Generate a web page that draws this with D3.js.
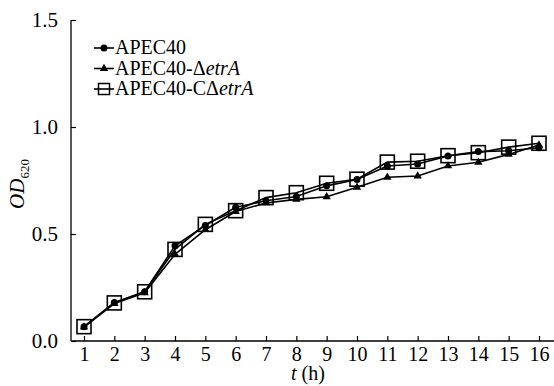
<!DOCTYPE html>
<html>
<head>
<meta charset="utf-8">
<script src="https://cdn.jsdelivr.net/npm/d3@7"></script>
<style>
  body { margin: 0; background: #fff; }
</style>
</head>
<body>
<svg id="chart" width="554" height="386"></svg>
<script>
// hours
const hours = [1, 2, 3, 4, 5, 6, 7, 8, 9, 10, 11, 12, 13, 14, 15, 16];
// OD620 per strain
const apec40 = [0.067, 0.18, 0.23, 0.445, 0.54, 0.625, 0.655, 0.675, 0.725, 0.755, 0.818, 0.827, 0.865, 0.885, 0.889, 0.903];
const deltaEtrA = [0.065, 0.175, 0.225, 0.405, 0.52, 0.605, 0.645, 0.662, 0.674, 0.718, 0.765, 0.771, 0.818, 0.835, 0.872, 0.916];
const cDeltaEtrA = [0.067, 0.178, 0.23, 0.428, 0.545, 0.609, 0.67, 0.693, 0.737, 0.756, 0.836, 0.84, 0.866, 0.88, 0.906, 0.924];
const yTicks = [0.0, 0.5, 1.0, 1.5];

const FONT = "'Liberation Serif', 'Times New Roman', Times, serif";

const svg = d3.select("#chart");
const margin = {top: 20, right: 0, bottom: 45, left: 71};
const width = 554, height = 386;

const x = d3.scaleLinear()
  .domain([1, 16])
  .range([84, 539]);
const y = d3.scaleLinear()
  .domain([0, 1.5])
  .range([341, 20]);

// axes, ticks pointing inward
const xAxis = d3.axisBottom(x).tickValues(hours).tickSize(-5).tickSizeOuter(0).tickPadding(6);
const yAxis = d3.axisLeft(y).tickValues(yTicks).tickFormat(d3.format(".1f")).tickSize(-5).tickSizeOuter(0).tickPadding(13);

const gx = svg.append("g")
  .attr("transform", `translate(0,${y(0)})`)
  .call(xAxis)
  .attr("font-family", null);
gx.select(".domain").remove();
gx.append("line")
  .attr("x1", margin.left).attr("x2", width)
  .attr("y1", 0).attr("y2", 0)
  .attr("stroke", "#000").attr("stroke-width", 1.3);
gx.selectAll(".tick line").attr("stroke", "#000").attr("stroke-width", 1.2);
gx.selectAll(".tick text")
  .style("font-family", FONT).style("font-size", "20px")
  .attr("fill", "#000").attr("dy", "0.72em");

const gy = svg.append("g")
  .attr("transform", `translate(${margin.left},0)`)
  .call(yAxis)
  .attr("font-family", null);
gy.select(".domain").remove();
gy.append("line")
  .attr("x1", 0).attr("x2", 0)
  .attr("y1", y(1.5)).attr("y2", y(0))
  .attr("stroke", "#000").attr("stroke-width", 1.3);
gy.selectAll(".tick line").attr("stroke", "#000").attr("stroke-width", 1.2);
gy.selectAll(".tick text")
  .style("font-family", FONT).style("font-size", "21px")
  .attr("fill", "#000");

// axis titles
const xt = svg.append("text")
  .attr("x", 308).attr("y", 380)
  .attr("text-anchor", "middle")
  .style("font-family", FONT)
  .style("font-size", "20px");
xt.append("tspan").attr("font-style", "italic").text("t");
xt.append("tspan").text(" (h)");

const yt = svg.append("text")
  .attr("transform", "translate(24,184) rotate(-90)")
  .attr("text-anchor", "middle")
  .style("font-family", FONT)
  .style("font-size", "21px");
yt.append("tspan").attr("font-style", "italic").text("OD");
yt.append("tspan").attr("dy", 5).style("font-size", "13px").text("620");

const series = [
  {name: "APEC40", values: apec40, marker: "circle"},
  {name: "APEC40-\u0394", italic: "etrA", values: deltaEtrA, marker: "triangle"},
  {name: "APEC40-C\u0394", italic: "etrA", values: cDeltaEtrA, marker: "square"}
];

const line = d3.line()
  .x((d, i) => x(hours[i]))
  .y(d => y(d));

function drawMarker(g, type, cx, cy) {
  if (type === "circle") {
    g.append("circle").attr("cx", cx).attr("cy", cy).attr("r", 3.5).attr("fill", "#000");
  } else if (type === "triangle") {
    g.append("path")
      .attr("d", d3.symbol().type(d3.symbolTriangle).size(30)())
      .attr("transform", `translate(${cx},${cy})`)
      .attr("fill", "#000");
  } else {
    g.append("rect")
      .attr("x", cx - 7).attr("y", cy - 7)
      .attr("width", 14).attr("height", 14)
      .attr("fill", "none").attr("stroke", "#000").attr("stroke-width", 1.6);
  }
}

series.forEach(s => {
  const g = svg.append("g");
  g.append("path")
    .datum(s.values)
    .attr("d", line)
    .attr("fill", "none")
    .attr("stroke", "#000")
    .attr("stroke-width", 1.6);
  s.values.forEach((v, i) => drawMarker(g, s.marker, x(hours[i]), y(v)));
});

// legend
const legend = svg.append("g");
series.forEach((s, i) => {
  const ly = 48 + i * 20.5;
  legend.append("line")
    .attr("x1", 94).attr("x2", 114)
    .attr("y1", ly).attr("y2", ly)
    .attr("stroke", "#000").attr("stroke-width", 1.6);
  if (s.marker === "square") {
    legend.append("rect")
      .attr("x", 104 - 5.5).attr("y", ly - 5.5)
      .attr("width", 11).attr("height", 11)
      .attr("fill", "none").attr("stroke", "#000").attr("stroke-width", 1.5);
  } else {
    drawMarker(legend, s.marker, 104, ly);
  }
  const t = legend.append("text")
    .attr("x", 115).attr("y", ly + 6)
    .style("font-family", FONT)
    .style("font-size", "20px");
  t.append("tspan").text(s.name);
  if (s.italic) t.append("tspan").attr("font-style", "italic").text(s.italic);
});
</script>
</body>
</html>
